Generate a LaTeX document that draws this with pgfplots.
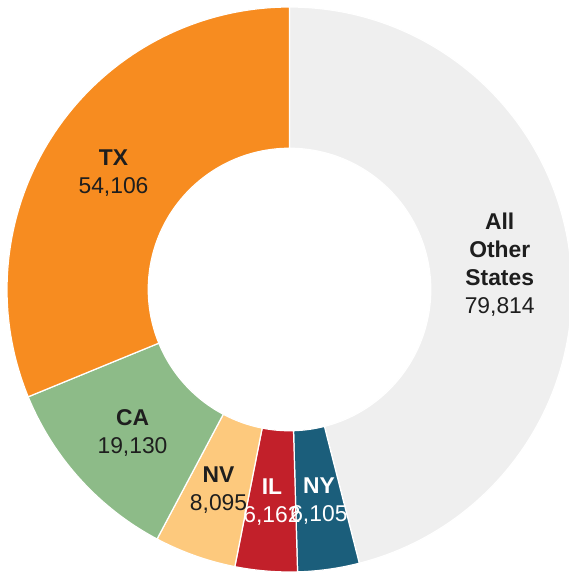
\documentclass[border=0pt]{standalone}
\usepackage{pgfplots}
\usepackage{pgfplotstable}
\pgfplotsset{compat=1.18}
\usepackage{fontspec}
\setmainfont{Liberation Sans}

\definecolor{cOther}{HTML}{EFEFEF}
\definecolor{cNY}{HTML}{1B5E7B}
\definecolor{cIL}{HTML}{C2202A}
\definecolor{cNV}{HTML}{FDC97D}
\definecolor{cCA}{HTML}{8DBB88}
\definecolor{cTX}{HTML}{F78C20}
\definecolor{dark}{HTML}{1E1E1E}

% slices clockwise from 12 o'clock
\pgfplotstableread{
name                 value  fc      tc
{All\\Other\\States} 79814  cOther  dark
NY                   6105   cNY     white
IL                   6162   cIL     white
NV                   8095   cNV     dark
CA                   19130  cCA     dark
TX                   54106  cTX     dark
}\states

\begin{document}
\begin{tikzpicture}
% angles from the table
\xdef\total{0}
\pgfplotsforeachungrouped \i in {0,...,5}{%
  \pgfplotstablegetelem{\i}{value}\of\states
  \xdef\total{\fpeval{\total+\pgfplotsretval}}}
\xdef\cum{0}
\pgfplotsforeachungrouped \i in {0,...,5}{%
  \pgfplotstablegetelem{\i}{value}\of\states
  \expandafter\xdef\csname vl\i\endcsname{\pgfplotsretval}
  \xdef\sweep{\fpeval{\pgfplotsretval/\total*360}}
  \expandafter\xdef\csname as\i\endcsname{\fpeval{round(90-\cum,4)}}
  \expandafter\xdef\csname ae\i\endcsname{\fpeval{round(90-\cum-\sweep,4)}}
  \expandafter\xdef\csname am\i\endcsname{\fpeval{round(90-\cum-\sweep/2,4)}}
  \xdef\cum{\fpeval{\cum+\sweep}}
  \pgfplotstablegetelem{\i}{name}\of\states
  \expandafter\global\expandafter\let\csname nm\i\endcsname\pgfplotsretval
  \pgfplotstablegetelem{\i}{fc}\of\states
  \expandafter\xdef\csname fc\i\endcsname{\pgfplotsretval}
  \pgfplotstablegetelem{\i}{tc}\of\states
  \expandafter\xdef\csname tc\i\endcsname{\pgfplotsretval}}
\def\as#1{\csname as#1\endcsname}
\def\ae#1{\csname ae#1\endcsname}
\def\am#1{\csname am#1\endcsname}
\begin{axis}[width=11.38cm, height=11.46cm, scale only axis, hide axis,
  xmin=-1.0248, xmax=0.9894, ymin=-1.0035, ymax=1.0248, clip=true]
\path (rel axis cs:0,0) rectangle (rel axis cs:1,1);
\pgfplotsinvokeforeach{0,...,5}{
  \fill[fill=\csname fc#1\endcsname, draw=white, line width=0.7pt]
    ({cos(\as{#1})},{sin(\as{#1})}) arc[start angle=\as{#1}, end angle=\ae{#1}, radius=1]
    -- ({0.5*cos(\ae{#1})},{0.5*sin(\ae{#1})})
    arc[start angle=\ae{#1}, end angle=\as{#1}, radius=0.5] -- cycle;
}
\pgfplotsinvokeforeach{0,...,5}{
  \node[text width=3cm, align=center, text=\csname tc#1\endcsname,
    font=\fontsize{13}{15.9}\selectfont\bfseries, inner sep=0pt]
    at ({0.75*cos(\am{#1})},{0.75*sin(\am{#1})-0.005})
    {\csname nm#1\endcsname\\ \mdseries\pgfmathprintnumber[fixed, precision=0,
      1000 sep={,}, assume math mode=true]{\csname vl#1\endcsname}};
}
\end{axis}
\end{tikzpicture}
\end{document}
